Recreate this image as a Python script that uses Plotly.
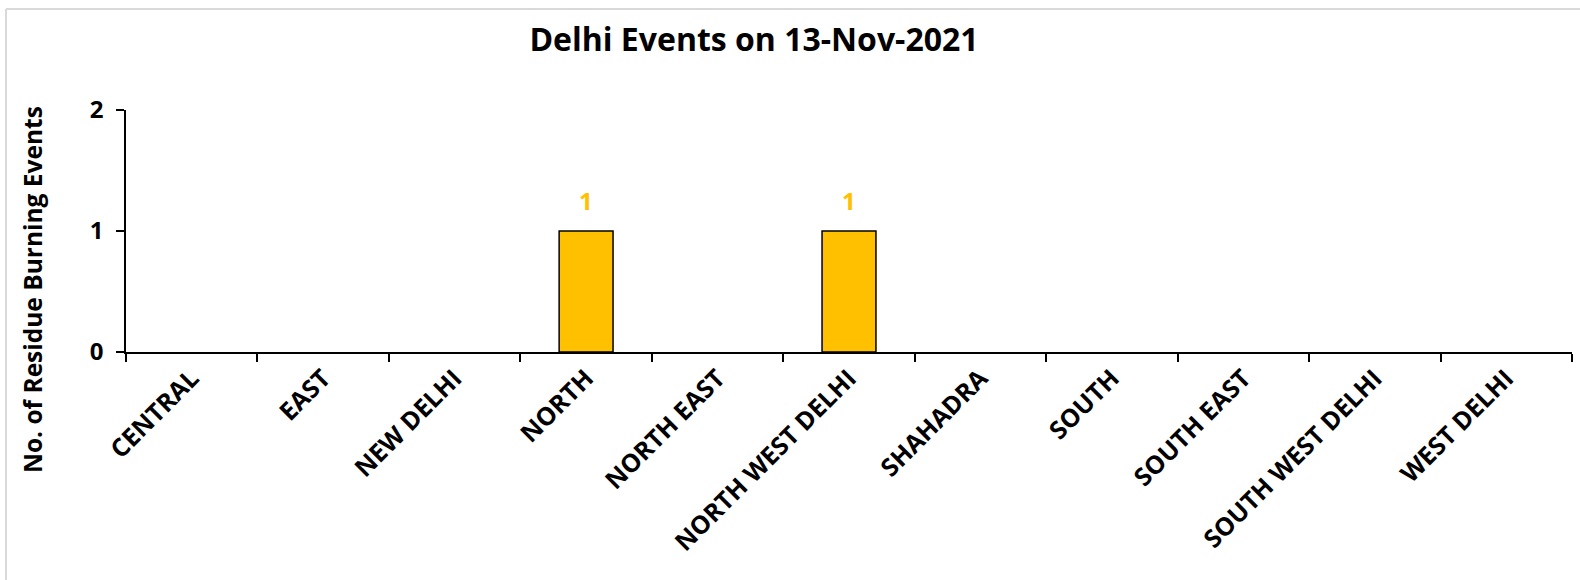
import plotly.graph_objects as go

# District-wise count of residue burning events
districts = ["CENTRAL", "EAST", "NEW DELHI", "NORTH", "NORTH EAST",
             "NORTH WEST DELHI", "SHAHADRA", "SOUTH", "SOUTH EAST",
             "SOUTH WEST DELHI", "WEST DELHI"]
events = [0, 0, 0, 1, 0, 1, 0, 0, 0, 0, 0]
y_ticks = [0, 1, 2]

title_text = "Delhi Events on 13-Nov-2021"
y_title = "No. of Residue Burning Events"

FONT = "Open Sans"
BAR_COLOR = "#FFC000"

W, H = 1580, 580
L, R, T, B = 126, 8, 110, 228
plot_w = W - L - R
plot_h = H - T - B


def px_to_paper_x(px):
    return (px - L) / plot_w


def px_to_paper_y(py):
    return (H - B - py) / plot_h


fig = go.Figure()
fig.add_trace(go.Bar(
    x=districts,
    y=events,
    marker=dict(
        color=BAR_COLOR,
        # empty bars get no outline
        line=dict(color="black", width=[1.5 if v > 0 else 0 for v in events]),
    ),
    hoverinfo="x+y",
))

# value labels above non-zero bars
for d, v in zip(districts, events):
    if v > 0:
        fig.add_annotation(
            x=d, y=v, xref="x", yref="y", text=str(v), showarrow=False,
            yanchor="bottom", yshift=12,
            font=dict(family=FONT, size=24, color=BAR_COLOR, weight="bold"),
        )

# axis title
fig.add_annotation(
    x=px_to_paper_x(32), y=px_to_paper_y(290), xref="paper", yref="paper",
    text=y_title, textangle=-90, showarrow=False,
    xanchor="center", yanchor="middle",
    font=dict(family=FONT, size=24.5, color="black", weight="bold"),
)

# chart frame (top and left edges)
frame = dict(color="#D9D9D9", width=2)
fig.add_shape(type="line", xref="paper", yref="paper",
              x0=px_to_paper_x(6), x1=px_to_paper_x(W + 5),
              y0=px_to_paper_y(9), y1=px_to_paper_y(9), line=frame)
fig.add_shape(type="line", xref="paper", yref="paper",
              x0=px_to_paper_x(6), x1=px_to_paper_x(6),
              y0=px_to_paper_y(9), y1=px_to_paper_y(H + 5), line=frame)

fig.update_layout(
    width=W, height=H,
    margin=dict(l=L, r=R, t=T, b=B, pad=0),
    paper_bgcolor="white", plot_bgcolor="white",
    bargap=0.59,
    showlegend=False,
    title=dict(
        text=title_text, x=754 / W, xanchor="center", xref="container",
        y=1 - 40 / H, yanchor="middle", yref="container",
        font=dict(family=FONT, size=32, color="black", weight="bold"),
    ),
    xaxis=dict(
        type="category",
        tickson="boundaries",
        ticks="outside", ticklen=8, tickwidth=1.5, tickcolor="black",
        showline=True, linecolor="black", linewidth=1.5,
        showgrid=False, zeroline=False,
        tickangle=-45,
        tickfont=dict(family=FONT, size=25, color="black", weight="bold"),
    ),
    yaxis=dict(
        range=[0, 2], tickvals=y_ticks,
        ticks="outside", ticklen=8, tickwidth=1.5, tickcolor="black",
        showline=True, linecolor="black", linewidth=1.5,
        showgrid=False, zeroline=False,
        ticklabelstandoff=8,
        tickfont=dict(family=FONT, size=24, color="black", weight="bold"),
    ),
)

fig.write_html("out.html")
